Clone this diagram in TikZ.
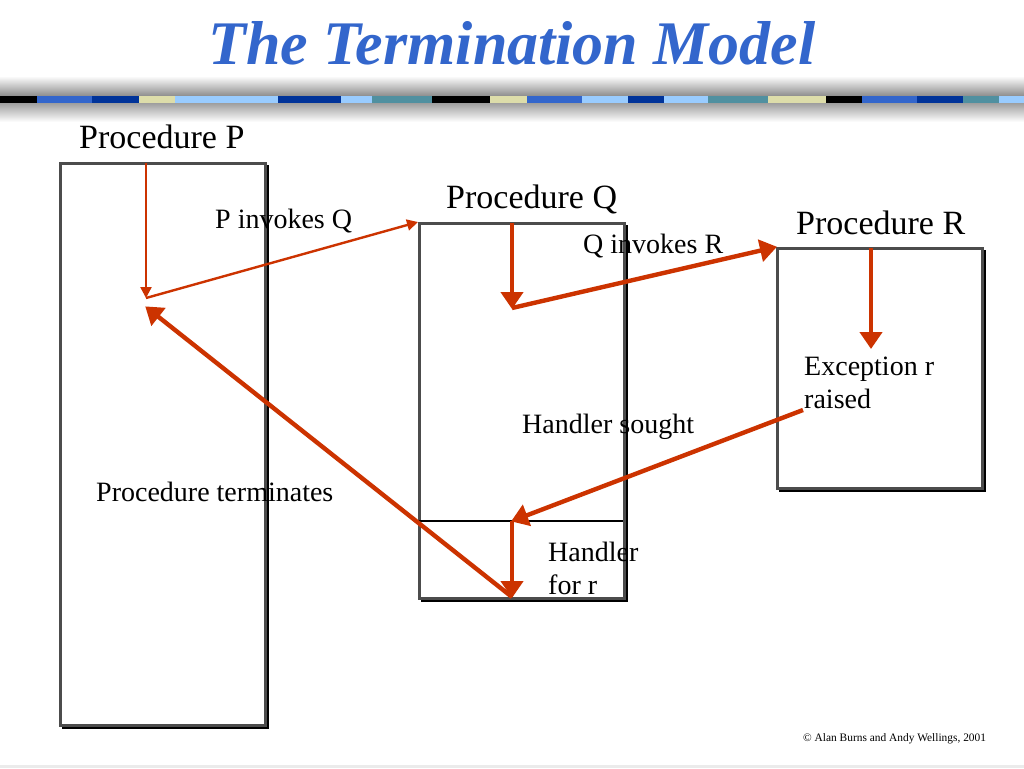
\documentclass[tikz,border=0pt]{standalone}
\usepackage{fontspec}
\setmainfont{Liberation Serif}
\usetikzlibrary{arrows.meta}
\definecolor{arrred}{HTML}{CC3300}
\definecolor{titleblue}{HTML}{3366CC}
\definecolor{cBlue}{HTML}{3366CC}
\definecolor{cDark}{HTML}{003399}
\definecolor{cBeige}{HTML}{DDDDAA}
\definecolor{cLight}{HTML}{99CCFF}
\definecolor{cTeal}{HTML}{5090A0}
\tikzset{
  procbox/.style={draw=black!70, line width=2.8pt, fill=white, inner sep=0pt, anchor=north west,
    preaction={draw=black, line width=2.2pt, transform canvas={xshift=2.8pt, yshift=-2.8pt}}},
  thinarr/.style={draw=arrred, line width=2.4pt, -{Triangle[length=11pt,width=11pt]}},
  thickarr/.style={draw=arrred, line width=4.4pt, -{Triangle[length=17pt,width=22pt]}, shorten >=-1pt},
  proclabel/.style={anchor=base west, inner sep=0pt, font=\fontsize{34}{40}\selectfont},
  lbl/.style={anchor=base west, inner sep=0pt, align=left, font=\fontsize{28}{33}\selectfont}
}
\begin{document}
\begin{tikzpicture}[x=1pt,y=-1pt]
\useasboundingbox (0,0) rectangle (1024,768);
\fill[white] (0,0) rectangle (1024,768);
% header shadow and bar
\shade[top color=white, bottom color=black!45] (0,76) rectangle (1024,96);
\shade[top color=black!38, bottom color=white] (0,103) rectangle (1024,122);
\foreach \a/\b/\c in {0/37/black,37/92/cBlue,92/139/cDark,139/175/cBeige,175/278/cLight,278/341/cDark,341/372/cLight,372/432/cTeal,432/490/black,490/527/cBeige,527/582/cBlue,582/628/cLight,628/664/cDark,664/708/cLight,708/768/cTeal,768/826/cBeige,826/862/black,862/917/cBlue,917/963/cDark,963/999/cTeal,999/1024/cLight}
  \fill[\c] (\a,96) rectangle (\b,103);
\fill[black!8] (0,765) rectangle (1024,768);
% title
\node[anchor=base, inner sep=0pt, text=titleblue, font=\fontsize{62}{70}\selectfont\bfseries\itshape] (title) at (512,64) {The Termination Model};
% boxes
\node[procbox, minimum width=205pt, minimum height=562pt] (boxP) at (59,162) {};
\node[procbox, minimum width=205pt, minimum height=375pt] (boxQ) at (418,222) {};
\node[procbox, minimum width=205pt, minimum height=240pt] (boxR) at (776,247) {};
\coordinate (divL) at (418,521);
\coordinate (divR) at (623,521);
\draw[black, line width=1.1pt] (divL) -- (divR);
% labels
\node[proclabel] (lP) at (79,148) {Procedure P};
\node[proclabel] (lQ) at (446,208) {Procedure Q};
\node[proclabel] (lR) at (796,234) {Procedure R};
\node[lbl] (pinv) at (215,228) {P invokes Q};
\node[lbl] (qinv) at (583,253) {Q invokes R};
\node[lbl] (sought) at (522,433) {Handler sought};
\node[lbl] (term) at (96,501) {Procedure terminates};
\node[lbl] (exc) at (804,408) {Exception r\\raised};
\node[lbl] (hand) at (548,594) {Handler\\for r};
\node[anchor=base west, inner sep=0pt, font=\fontsize{11.4}{13}\selectfont] (copy) at (803,741) {© Alan Burns and Andy Wellings, 2001};
% arrow points
\coordinate (pTop) at (146,163);
\coordinate (pMid) at (146,298);
\coordinate (qTop) at (512,223);
\coordinate (qMid) at (512,308);
\coordinate (rTop) at (871,248);
\coordinate (rMid) at (871,348);
\coordinate (excPt) at (803,410);
\coordinate (hDiv) at (512,521);
\coordinate (hBot) at (512,597);
\coordinate (pRet) at (146,307);
% arrows
\draw[thinarr] (pTop) -- (pMid);
\draw[thinarr] (pMid) -- (boxQ.north west);
\draw[thickarr] (qTop) -- (qMid);
\draw[thickarr] (qMid) -- (boxR.north west);
\draw[thickarr] (rTop) -- (rMid);
\draw[thickarr] (excPt) -- (hDiv);
\draw[thickarr] (hDiv) -- (hBot);
\draw[thickarr] (hBot) -- (pRet);
\end{tikzpicture}
\end{document}
